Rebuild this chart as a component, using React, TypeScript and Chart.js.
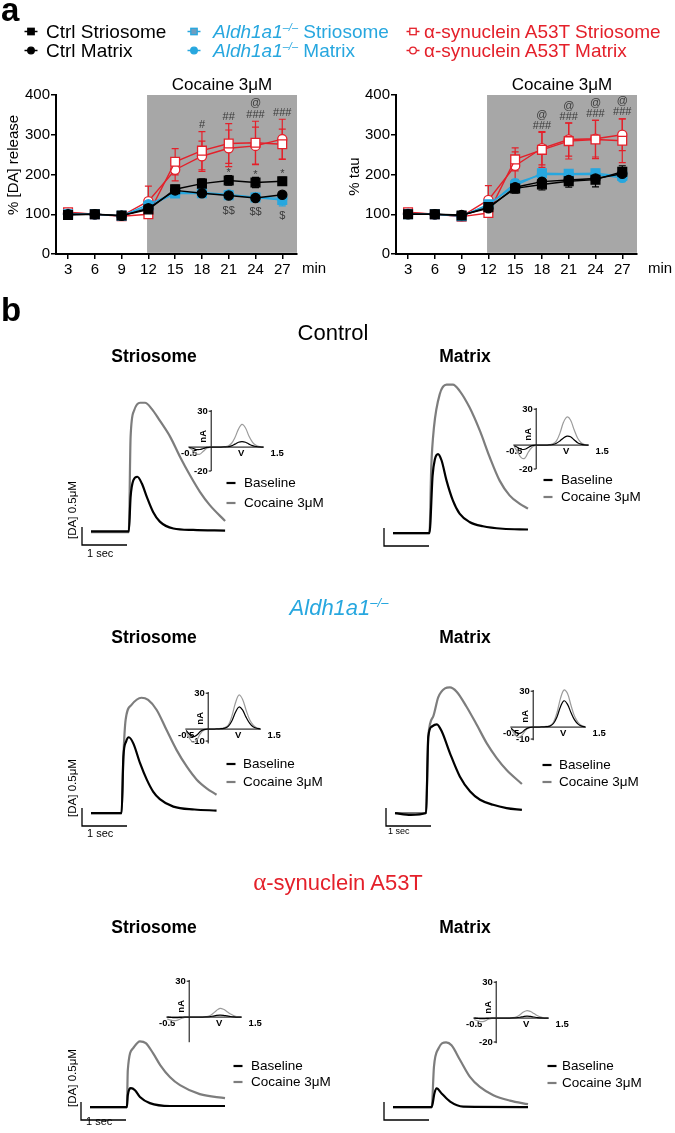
import React, { useEffect, useRef } from 'react';
import { Chart, registerables } from 'chart.js';

Chart.register(...registerables);

type Pt = [number, number];

// ---------------- panel a : time course ----------------
const MINUTES = [3, 6, 9, 12, 15, 18, 21, 24, 27];
const MINUTE_AXIS = [1.65, 28.65];
const COCAINE_FROM_MIN = 11.85;
const PERCENT_AXIS = [0, 400];
const PERCENT_STEP = 100;

const DA_CTRL_STRIOSOME = [98, 100, 97, 112, 163, 177, 185, 180, 183];
const DA_CTRL_MATRIX = [100, 100, 96, 115, 160, 153, 147, 141, 149];
const DA_ALDH_STRIOSOME = [100, 100, 96, 120, 152, 153, 148, 142, 136];
const DA_ALDH_MATRIX = [101, 100, 96, 125, 155, 155, 150, 143, 140];
const DA_A53T_STRIOSOME = [105, 100, 95, 100, 232, 260, 278, 280, 276];
const DA_A53T_MATRIX = [103, 100, 96, 133, 212, 246, 266, 272, 289];

const DA_CTRL_STRIOSOME_SEM = [5, 4, 4, 8, 10, 12, 12, 13, 10];
const DA_CTRL_MATRIX_SEM = [4, 3, 3, 6, 8, 6, 6, 6, 6];
const DA_ALDH_STRIOSOME_SEM = [4, 4, 4, 8, 8, 8, 10, 8, 15];
const DA_ALDH_MATRIX_SEM = [4, 4, 4, 8, 8, 8, 8, 8, 8];
const DA_A53T_STRIOSOME_SEM = [6, 4, 5, 5, 33, 48, 50, 54, 38];
const DA_A53T_MATRIX_SEM = [5, 4, 5, 38, 28, 38, 46, 47, 50];

const TAU_CTRL_STRIOSOME = [100, 100, 97, 118, 165, 175, 183, 187, 207];
const TAU_CTRL_MATRIX = [100, 100, 98, 115, 168, 182, 186, 190, 202];
const TAU_ALDH_STRIOSOME = [100, 100, 95, 125, 172, 203, 202, 203, 196];
const TAU_ALDH_MATRIX = [101, 100, 96, 122, 178, 200, 200, 200, 192];
const TAU_A53T_STRIOSOME = [105, 100, 94, 103, 238, 262, 284, 288, 285];
const TAU_A53T_MATRIX = [103, 100, 95, 136, 222, 266, 288, 290, 300];

const TAU_CTRL_STRIOSOME_SEM = [5, 4, 4, 8, 12, 14, 15, 18, 15];
const TAU_CTRL_MATRIX_SEM = [4, 3, 3, 6, 10, 10, 10, 10, 12];
const TAU_ALDH_STRIOSOME_SEM = [4, 4, 4, 8, 10, 10, 10, 10, 12];
const TAU_ALDH_MATRIX_SEM = [4, 4, 4, 8, 10, 10, 10, 10, 10];
const TAU_A53T_STRIOSOME_SEM = [6, 4, 5, 5, 29, 44, 45, 48, 55];
const TAU_A53T_MATRIX_SEM = [5, 4, 5, 36, 35, 42, 42, 46, 40];

const DA_MARKS: [number, number, string][] = [
  [18, 325, '#'], [21, 344, '##'], [24, 350, '###'], [24, 379, '@'], [27, 356, '###'],
  [21, 203, '*'], [24, 199, '*'], [27, 201, '*'],
  [21, 108, '$$'], [24, 106, '$$'], [27, 95, '$'],
];
const TAU_MARKS: [number, number, string][] = [
  [18, 350, '@'], [18, 321, '###'], [21, 372, '@'], [21, 344, '###'],
  [24, 379, '@'], [24, 352, '###'], [27, 386, '@'], [27, 357, '###'],
];

// ---------------- panel b : amperometric traces (s, µM) ----------------
const CTRL_STR_BASELINE: Pt[] = [[0, 0.02], [0.84, 0.02], [0.88, 0.98], [0.94, 1.44], [1.03, 1.54], [1.13, 1.35], [1.24, 0.98], [1.38, 0.56], [1.53, 0.29], [1.83, 0.1], [2.27, 0.06], [2.98, 0.04]];
const CTRL_STR_COCAINE: Pt[] = [[0, 0], [0.84, 0], [0.88, 2.65], [0.96, 3.39], [1.09, 3.6], [1.2, 3.6], [1.35, 3.43], [1.53, 3.1], [1.76, 2.65], [1.98, 2.09], [2.2, 1.58], [2.42, 1.12], [2.64, 0.75], [2.98, 0.31]];
const CTRL_MAT_BASELINE: Pt[] = [[0, 0], [0.81, 0], [0.88, 1.6], [0.93, 2.05], [1.0, 2.2], [1.08, 2.02], [1.19, 1.46], [1.33, 0.91], [1.48, 0.54], [1.7, 0.31], [2.0, 0.19], [2.44, 0.12], [3.0, 0.1]];
const CTRL_MAT_COCAINE: Pt[] = [[0, 0], [0.81, 0], [0.85, 1.83], [0.91, 2.94], [1.04, 3.87], [1.19, 4.13], [1.33, 4.13], [1.48, 3.96], [1.7, 3.5], [1.93, 2.85], [2.15, 2.11], [2.37, 1.46], [2.59, 1.05], [2.81, 0.82], [3.0, 0.68]];
const ALDH_STR_BASELINE: Pt[] = [[0, 0], [0.68, 0], [0.72, 1.57], [0.78, 1.99], [0.84, 2.11], [0.94, 1.94], [1.09, 1.39], [1.24, 0.93], [1.38, 0.6], [1.53, 0.39], [1.83, 0.18], [2.3, 0.1], [2.79, 0.07]];
const ALDH_STR_COCAINE: Pt[] = [[0, 0], [0.68, 0], [0.72, 1.57], [0.77, 2.6], [0.9, 3.01], [1.12, 3.21], [1.27, 3.15], [1.46, 2.87], [1.68, 2.31], [1.9, 1.76], [2.13, 1.29], [2.35, 0.93], [2.57, 0.69], [2.79, 0.51]];
const ALDH_MAT_BASELINE: Pt[] = [[0, 0], [0.35, -0.05], [0.69, 0], [0.74, 2.13], [0.82, 2.41], [0.93, 2.47], [1.04, 2.27], [1.22, 1.67], [1.44, 1.02], [1.67, 0.6], [1.89, 0.37], [2.18, 0.23], [2.48, 0.14], [2.82, 0.09]];
const ALDH_MAT_COCAINE: Pt[] = [[0, 0], [0.69, 0], [0.74, 2.13], [0.85, 2.69], [0.96, 3.22], [1.11, 3.47], [1.22, 3.5], [1.37, 3.38], [1.59, 2.96], [1.82, 2.45], [2.04, 1.94], [2.26, 1.53], [2.48, 1.2], [2.82, 0.81]];
const A53T_STR_BASELINE: Pt[] = [[0, 0], [0.82, 0], [0.84, 0.33], [0.91, 0.53], [1.0, 0.47], [1.11, 0.28], [1.33, 0.11], [1.78, 0.03], [3.0, 0.03]];
const A53T_STR_COCAINE: Pt[] = [[0, 0], [0.82, 0], [0.84, 1.03], [0.96, 1.64], [1.11, 1.83], [1.24, 1.78], [1.4, 1.5], [1.56, 1.17], [1.78, 0.83], [2.0, 0.61], [2.44, 0.36], [3.0, 0.25]];
const A53T_MAT_BASELINE: Pt[] = [[0, 0], [0.86, 0], [0.92, 0.38], [0.97, 0.52], [1.08, 0.38], [1.27, 0.15], [1.56, 0.01], [3.0, 0.0]];
const A53T_MAT_COCAINE: Pt[] = [[0, 0], [0.86, 0], [0.91, 1.12], [1.01, 1.63], [1.18, 1.8], [1.3, 1.72], [1.49, 1.31], [1.71, 0.84], [1.93, 0.56], [2.23, 0.33], [2.6, 0.18], [3.0, 0.08]];

const SCALE_BAR_SEC = 1;
const SCALE_BAR_UM = 0.5;
const SCALE_BAR_ORIGIN: Pt = [-0.2, -0.36];

// ---------------- cyclic voltammograms (V, nA) ----------------
const CV_VOLTS = [-0.5, -0.42, -0.34, -0.26, -0.18, -0.1, -0.02, 0.06, 0.14, 0.22, 0.3, 0.38, 0.46, 0.54, 0.62, 0.7, 0.78, 0.86, 0.94, 1.02, 1.1, 1.18];
const CTRL_STR_CV_COCAINE = [-0.5, -2.5, -5.5, -6, -3.5, -1, 0, 0, 0, 0, 0.2, 0.8, 3, 8, 15, 19, 16, 9, 4, 1.5, 0.4, 0];
const CTRL_STR_CV_BASELINE = [-0.3, -1, -2, -2, -1.2, -0.3, 0, 0, 0, 0, 0.1, 0.3, 1, 2.5, 4, 4.5, 4, 2.5, 1.2, 0.5, 0.1, 0];
const CTRL_MAT_CV_COCAINE = [-1, -6, -10.5, -11, -6, -2, -0.3, 0, 0, 0, 0.3, 1, 3.5, 10, 19, 23.5, 21, 13, 6, 2, 0.5, 0];
const CTRL_MAT_CV_BASELINE = [-0.5, -2, -3.5, -3.5, -2, -0.5, 0, 0, 0, 0, 0.2, 0.5, 1.5, 3.5, 6, 7.5, 7, 4.5, 2, 0.8, 0.2, 0];
const ALDH_STR_CV_COCAINE = [-2, -8, -11, -9, -4, -1, -0.2, 0, 0, 0.3, 0.6, 1.2, 3.5, 11, 22, 28.5, 25, 16, 8, 3.5, 1.2, 0.3];
const ALDH_STR_CV_BASELINE = [-1, -4.5, -6.4, -5, -2, -0.5, 0, 0, 0, 0.2, 0.4, 0.8, 2.5, 7, 14, 18.5, 16, 10, 5, 2, 0.7, 0.2];
const ALDH_MAT_CV_COCAINE = [-1.5, -6, -8.7, -7, -3, -0.8, 0, 0, 0, 0.3, 0.6, 1.2, 4, 12, 24, 31, 28, 18, 9, 4, 1.3, 0.3];
const ALDH_MAT_CV_BASELINE = [-1, -3.5, -5.4, -4.5, -2, -0.5, 0, 0, 0, 0.2, 0.4, 0.8, 3, 8.5, 17, 22, 19, 12, 6, 2.5, 0.8, 0.2];
const A53T_STR_CV_COCAINE = [-1.5, -2.5, -3, -2.5, -1.2, -0.3, 0, 0, 0, 0, 0.1, 0.3, 1, 3, 5.5, 7.3, 6.5, 4.5, 2.5, 1, 0.3, 0];
const A53T_STR_CV_BASELINE = [0, -0.3, -0.5, -0.4, -0.2, 0, 0, 0, 0, 0, 0, 0.1, 0.3, 0.8, 1.4, 1.7, 1.5, 1, 0.5, 0.2, 0, 0];
const A53T_MAT_CV_COCAINE = [-1.2, -2.2, -3, -2.5, -1, -0.3, 0, 0, 0, 0, 0.1, 0.3, 1, 2.8, 5, 6.3, 5.5, 3.8, 2, 0.8, 0.2, 0];
const A53T_MAT_CV_BASELINE = [0, -0.3, -0.5, -0.4, -0.2, 0, 0, 0, 0, 0, 0, 0.1, 0.3, 0.7, 1.3, 1.7, 1.4, 0.9, 0.4, 0.1, 0, 0];
const CV_V_TICKS = [-0.5, 1.5];

// ---------------- styles ----------------
const FONT = '"Liberation Sans", Arial, Helvetica, sans-serif';
const SERIF = '"Liberation Serif", "Times New Roman", serif';
const BLACK = '#000000';
const BLUE = '#27a7df';
const RED = '#e4202a';
const TRACE_GRAY = '#7d7d7d';
const CV_GRAY = '#9b9b9b';
const SHADE = '#a7a7a7';
const MARK_COLOR = '#3a3a3a';

const SERIES_STYLE = [
  { label: 'Ctrl Striosome', color: BLACK, fill: BLACK, shape: 'rect', r: 6.2 },
  { label: 'Ctrl Matrix', color: BLACK, fill: BLACK, shape: 'circle', r: 4.6 },
  { label: 'Aldh1a1-/- Striosome', color: BLUE, fill: BLUE, shape: 'rect', r: 6.2 },
  { label: 'Aldh1a1-/- Matrix', color: BLUE, fill: BLUE, shape: 'circle', r: 4.6 },
  { label: 'α-synuclein A53T Striosome', color: RED, fill: '#ffffff', shape: 'rect', r: 6.2 },
  { label: 'α-synuclein A53T Matrix', color: RED, fill: '#ffffff', shape: 'circle', r: 4.6 },
];

// ---------------- plugins ----------------
const shadePlugin = {
  id: 'shade',
  beforeDraw(chart: any, _a: any, o: any) {
    const { ctx } = chart;
    const xs = chart.scales.x, ys = chart.scales.y;
    const x0 = xs.getPixelForValue(o.from), x1 = xs.getPixelForValue(o.to);
    const y0 = ys.getPixelForValue(o.top), y1 = ys.getPixelForValue(o.bottom);
    ctx.save();
    ctx.fillStyle = o.color;
    ctx.fillRect(x0, y0, x1 - x0, y1 - y0);
    ctx.fillStyle = BLACK;
    ctx.font = `17px ${FONT}`;
    ctx.textAlign = 'center';
    ctx.textBaseline = 'alphabetic';
    ctx.fillText(o.label, (x0 + x1) / 2, y0 - 5);
    ctx.restore();
  },
};

const errorBarPlugin = {
  id: 'errorBars',
  beforeDatasetsDraw(chart: any) {
    const { ctx } = chart;
    const xs = chart.scales.x, ys = chart.scales.y;
    ctx.save();
    const dss = chart.data.datasets;
    for (let i = dss.length - 1; i >= 0; i--) {
      const ds = dss[i];
      if (!ds.errors) continue;
      ctx.strokeStyle = ds.borderColor;
      ctx.lineWidth = 1.2;
      ds.data.forEach((p: any, j: number) => {
        const e = ds.errors[j];
        const px = xs.getPixelForValue(p.x);
        const top = ys.getPixelForValue(p.y + e), bot = ys.getPixelForValue(p.y - e);
        ctx.beginPath();
        ctx.moveTo(px, top); ctx.lineTo(px, bot);
        ctx.moveTo(px - 3.5, top); ctx.lineTo(px + 3.5, top);
        ctx.moveTo(px - 3.5, bot); ctx.lineTo(px + 3.5, bot);
        ctx.stroke();
      });
    }
    ctx.restore();
  },
};

const marksPlugin = {
  id: 'marks',
  afterDatasetsDraw(chart: any, _a: any, o: any) {
    const { ctx } = chart;
    const xs = chart.scales.x, ys = chart.scales.y;
    ctx.save();
    ctx.fillStyle = MARK_COLOR;
    ctx.font = `11px ${FONT}`;
    ctx.textAlign = 'center';
    ctx.textBaseline = 'middle';
    (o.items || []).forEach(([x, y, t]: [number, number, string]) => {
      ctx.fillText(t, xs.getPixelForValue(x), ys.getPixelForValue(y));
    });
    ctx.restore();
  },
};

const axisTextPlugin = {
  id: 'axisText',
  afterDraw(chart: any, _a: any, o: any) {
    const { ctx, chartArea } = chart;
    const ys = chart.scales.y;
    ctx.save();
    ctx.fillStyle = BLACK;
    ctx.font = `15px ${FONT}`;
    ctx.textAlign = 'left';
    ctx.textBaseline = 'middle';
    ctx.fillText(o.unit, chartArea.right + o.unitDx, chartArea.bottom + 15);
    ctx.translate(o.titleX, ys.getPixelForValue(o.titleAt));
    ctx.rotate(-Math.PI / 2);
    ctx.textAlign = 'center';
    ctx.fillText(o.title, 0, 0);
    ctx.restore();
  },
};

const cvAxesPlugin = {
  id: 'cvAxes',
  beforeDatasetsDraw(chart: any, _a: any, o: any) {
    const { ctx } = chart;
    const xs = chart.scales.x, ys = chart.scales.y;
    const X = (v: number) => xs.getPixelForValue(v);
    const Y = (v: number) => ys.getPixelForValue(v);
    ctx.save();
    ctx.strokeStyle = BLACK;
    ctx.lineWidth = 1;
    ctx.beginPath();
    ctx.moveTo(X(o.vFrom), Y(0)); ctx.lineTo(X(o.vTo), Y(0));
    ctx.moveTo(X(0), Y(o.iFrom)); ctx.lineTo(X(0), Y(o.iTo));
    o.iTicks.forEach((t: number) => { ctx.moveTo(X(0) - 2.5, Y(t)); ctx.lineTo(X(0), Y(t)); });
    ctx.stroke();
    ctx.fillStyle = BLACK;
    ctx.font = `bold 9.5px ${FONT}`;
    ctx.textAlign = 'right';
    ctx.textBaseline = 'middle';
    o.iTicks.forEach((t: number) => ctx.fillText(String(t), X(0) - 3.5, Y(t)));
    ctx.textAlign = 'center';
    ctx.textBaseline = 'top';
    o.vTicks.forEach((t: number) => ctx.fillText(String(t), X(t), Y(0) + 2));
    ctx.fillText(o.vTitle, X(o.vTitleAt), Y(0) + 2);
    ctx.translate(X(0) - 3, Y(o.iTitleAt));
    ctx.rotate(-Math.PI / 2);
    ctx.textBaseline = 'bottom';
    ctx.fillText(o.iTitle, 0, 0);
    ctx.restore();
  },
};

// ---------------- chart configs ----------------
function timeCourseConfig(values: number[][], errors: number[][], marks: any[], yTitle: string, titleX: number, titleAt: number, unitDx: number) {
  const datasets = SERIES_STYLE.map((s, i) => ({
    label: s.label,
    data: MINUTES.map((m, j) => ({ x: m, y: values[i][j] })),
    errors: errors[i],
    showLine: true,
    borderColor: s.color,
    backgroundColor: s.fill,
    pointBackgroundColor: s.fill,
    pointBorderColor: s.color,
    pointStyle: s.shape,
    pointRadius: s.r,
    pointBorderWidth: 1.3,
    borderWidth: 1.4,
    tension: 0,
  }));
  const tickFont = { family: FONT, size: 15 };
  const grid = { display: true, drawOnChartArea: false, drawTicks: true, tickLength: 5, color: BLACK, lineWidth: 1.5 };
  return {
    type: 'scatter',
    data: { datasets },
    plugins: [shadePlugin, errorBarPlugin, marksPlugin, axisTextPlugin],
    options: {
      animation: false,
      responsive: false,
      maintainAspectRatio: false,
      layout: { padding: { top: 25, right: 38, left: 0, bottom: 0 } },
      plugins: {
        legend: { display: false },
        tooltip: { enabled: false },
        shade: { from: COCAINE_FROM_MIN, to: MINUTE_AXIS[1], top: PERCENT_AXIS[1], bottom: 3, color: SHADE, label: 'Cocaine 3μM' },
        marks: { items: marks },
        axisText: { unit: 'min', unitDx: unitDx, title: yTitle, titleX, titleAt },
      },
      scales: {
        x: {
          type: 'linear',
          min: MINUTE_AXIS[0],
          max: MINUTE_AXIS[1],
          afterBuildTicks: (s: any) => { s.ticks = MINUTES.map((v) => ({ value: v })); },
          ticks: { color: BLACK, font: tickFont, padding: 2, autoSkip: false, maxRotation: 0, callback: (v: any) => String(v) },
          grid,
          border: { color: BLACK, width: 2 },
          afterFit: (s: any) => { s.height = 31; },
        },
        y: {
          min: PERCENT_AXIS[0],
          max: PERCENT_AXIS[1],
          ticks: { stepSize: PERCENT_STEP, color: BLACK, font: tickFont, padding: 1 },
          grid,
          border: { color: BLACK, width: 2 },
          afterFit: (s: any) => { s.width = 56; },
        },
      },
    },
  };
}

const TRACE_T_RANGE = [-0.4, 3.2];
const TRACE_C_RANGE = [-1.0, 4.4];
const PX_PER_SEC = 45;
const PX_PER_UM = 36;

function traceConfig(base: Pt[], coc: Pt[]) {
  const [bx, by] = SCALE_BAR_ORIGIN;
  const bar = [{ x: bx, y: by + SCALE_BAR_UM }, { x: bx, y: by }, { x: bx + SCALE_BAR_SEC, y: by }];
  const line = (pts: Pt[], color: string) => ({
    data: pts.map(([x, y]) => ({ x, y })),
    showLine: true,
    borderColor: color,
    borderWidth: 2.2,
    pointRadius: 0,
    cubicInterpolationMode: 'monotone',
  });
  return {
    type: 'scatter',
    data: {
      datasets: [
        line(base, BLACK),
        line(coc, TRACE_GRAY),
        { data: bar, showLine: true, borderColor: BLACK, borderWidth: 1.3, pointRadius: 0, tension: 0 },
      ],
    },
    options: {
      animation: false,
      responsive: false,
      maintainAspectRatio: false,
      layout: { padding: 0 },
      plugins: { legend: { display: false }, tooltip: { enabled: false } },
      scales: {
        x: { type: 'linear', display: false, min: TRACE_T_RANGE[0], max: TRACE_T_RANGE[1] },
        y: { type: 'linear', display: false, min: TRACE_C_RANGE[0], max: TRACE_C_RANGE[1] },
      },
    },
  };
}

const CV_V_RANGE = [-0.8, 1.7];
const CV_I_RANGE = [-30, 36];
const PX_PER_V = 44;
const PX_PER_NA = 1.2;

function cvConfig(base: number[], coc: number[], iMin: number, iTicks: number[]) {
  const line = (vals: number[], color: string) => ({
    data: CV_VOLTS.map((v, i) => ({ x: v, y: vals[i] })),
    showLine: true,
    borderColor: color,
    borderWidth: 1.2,
    pointRadius: 0,
    tension: 0.35,
  });
  return {
    type: 'scatter',
    data: { datasets: [line(base, BLACK), line(coc, CV_GRAY)] },
    plugins: [cvAxesPlugin],
    options: {
      animation: false,
      responsive: false,
      maintainAspectRatio: false,
      layout: { padding: 0 },
      plugins: {
        legend: { display: false },
        tooltip: { enabled: false },
        cvAxes: {
          vFrom: -0.52, vTo: 1.2, iFrom: iMin, iTo: 31, iTicks, vTicks: CV_V_TICKS,
          vTitle: 'V', vTitleAt: 0.68, iTitle: 'nA', iTitleAt: 9,
        },
      },
      scales: {
        x: { type: 'linear', display: false, min: CV_V_RANGE[0], max: CV_V_RANGE[1] },
        y: { type: 'linear', display: false, min: CV_I_RANGE[0], max: CV_I_RANGE[1] },
      },
    },
  };
}

// ---------------- layout ----------------
const PANELS = [
  { base: CTRL_STR_BASELINE, coc: CTRL_STR_COCAINE, cvB: CTRL_STR_CV_BASELINE, cvC: CTRL_STR_CV_COCAINE, o: [91, 532], cv: [211, 447], iMin: -20, iTicks: [30, -20], lg: [231, 244, 487, 507], sec: [87, 557, 11], da: [76, 510] },
  { base: CTRL_MAT_BASELINE, coc: CTRL_MAT_COCAINE, cvB: CTRL_MAT_CV_BASELINE, cvC: CTRL_MAT_CV_COCAINE, o: [393, 533], cv: [536, 445], iMin: -20, iTicks: [30, -20], lg: [548, 561, 484, 501], sec: null, da: null },
  { base: ALDH_STR_BASELINE, coc: ALDH_STR_COCAINE, cvB: ALDH_STR_CV_BASELINE, cvC: ALDH_STR_CV_COCAINE, o: [91, 813], cv: [208, 729], iMin: -12, iTicks: [30, -10], lg: [231, 243, 768, 786], sec: [87, 837, 11], da: [76, 788] },
  { base: ALDH_MAT_BASELINE, coc: ALDH_MAT_COCAINE, cvB: ALDH_MAT_CV_BASELINE, cvC: ALDH_MAT_CV_COCAINE, o: [395, 813], cv: [533, 727], iMin: -11, iTicks: [30, -10], lg: [547, 559, 769, 786], sec: [388, 834, 9], da: null },
  { base: A53T_STR_BASELINE, coc: A53T_STR_COCAINE, cvB: A53T_STR_CV_BASELINE, cvC: A53T_STR_CV_COCAINE, o: [90, 1107], cv: [189, 1017], iMin: -21, iTicks: [30], lg: [238, 251, 1070, 1086], sec: [86, 1125, 11], da: [76, 1078] },
  { base: A53T_MAT_BASELINE, coc: A53T_MAT_COCAINE, cvB: A53T_MAT_CV_BASELINE, cvC: A53T_MAT_CV_COCAINE, o: [393, 1107], cv: [496, 1018], iMin: -21, iTicks: [30, -20], lg: [552, 562, 1070, 1087], sec: null, da: null },
];

function CanvasChart({ left, top, width, height, make }: any) {
  const ref = useRef<HTMLCanvasElement | null>(null);
  useEffect(() => {
    if (!ref.current) return;
    const chart = new Chart(ref.current, make());
    return () => chart.destroy();
  }, []);
  return (
    <canvas
      ref={ref}
      width={Math.round(width)}
      height={Math.round(height)}
      style={{ position: 'absolute', left, top, width: Math.round(width), height: Math.round(height) }}
    />
  );
}

function Marker({ x, y, color, fill, shape }: any) {
  return (
    <g>
      <line x1={x - 6.5} x2={x + 6.5} y1={y} y2={y} stroke={color} strokeWidth={1.5} />
      {shape === 'rect' ? (
        <rect x={x - 3.2} y={y - 3.2} width={6.4} height={6.4} fill={fill} stroke={color} strokeWidth={1.3} />
      ) : (
        <circle cx={x} cy={y} r={3.3} fill={fill} stroke={color} strokeWidth={1.3} />
      )}
    </g>
  );
}

export default function App() {
  const daValues = [DA_CTRL_STRIOSOME, DA_CTRL_MATRIX, DA_ALDH_STRIOSOME, DA_ALDH_MATRIX, DA_A53T_STRIOSOME, DA_A53T_MATRIX];
  const daErrors = [DA_CTRL_STRIOSOME_SEM, DA_CTRL_MATRIX_SEM, DA_ALDH_STRIOSOME_SEM, DA_ALDH_MATRIX_SEM, DA_A53T_STRIOSOME_SEM, DA_A53T_MATRIX_SEM];
  const tauValues = [TAU_CTRL_STRIOSOME, TAU_CTRL_MATRIX, TAU_ALDH_STRIOSOME, TAU_ALDH_MATRIX, TAU_A53T_STRIOSOME, TAU_A53T_MATRIX];
  const tauErrors = [TAU_CTRL_STRIOSOME_SEM, TAU_CTRL_MATRIX_SEM, TAU_ALDH_STRIOSOME_SEM, TAU_ALDH_MATRIX_SEM, TAU_A53T_STRIOSOME_SEM, TAU_A53T_MATRIX_SEM];

  const traceW = (TRACE_T_RANGE[1] - TRACE_T_RANGE[0]) * PX_PER_SEC;
  const traceH = (TRACE_C_RANGE[1] - TRACE_C_RANGE[0]) * PX_PER_UM;
  const cvW = (CV_V_RANGE[1] - CV_V_RANGE[0]) * PX_PER_V;
  const cvH = (CV_I_RANGE[1] - CV_I_RANGE[0]) * PX_PER_NA;

  const legendRows = [
    { s: SERIES_STYLE[0], mx: 31, y: 38 },
    { s: SERIES_STYLE[1], mx: 31, y: 57 },
    { s: SERIES_STYLE[2], mx: 194, y: 38 },
    { s: SERIES_STYLE[3], mx: 194, y: 57 },
    { s: SERIES_STYLE[4], mx: 413, y: 38 },
    { s: SERIES_STYLE[5], mx: 413, y: 57 },
  ];

  const t = (x: number, y: number, size: number, content: any, extra: any = {}) => (
    <text x={x} y={y} fontFamily={FONT} fontSize={size} fill={BLACK} style={{ whiteSpace: 'pre' }} {...extra}>{content}</text>
  );

  return (
    <div style={{ position: 'absolute', left: 0, top: 0, width: 675, height: 1133, background: '#fff', overflow: 'hidden' }}>
      <CanvasChart left={0} top={70} width={335} height={215} make={() => timeCourseConfig(daValues, daErrors, DA_MARKS, '% [DA] release', 14, 224, 5)} />
      <CanvasChart left={340} top={70} width={335} height={215} make={() => timeCourseConfig(tauValues, tauErrors, TAU_MARKS, '% tau', 15, 195, 11)} />
      {PANELS.map((p, i) => (
        <React.Fragment key={i}>
          <CanvasChart
            left={p.o[0] + TRACE_T_RANGE[0] * PX_PER_SEC}
            top={p.o[1] - TRACE_C_RANGE[1] * PX_PER_UM}
            width={traceW}
            height={traceH}
            make={() => traceConfig(p.base, p.coc)}
          />
          <CanvasChart
            left={p.cv[0] + CV_V_RANGE[0] * PX_PER_V}
            top={p.cv[1] - CV_I_RANGE[1] * PX_PER_NA}
            width={cvW}
            height={cvH}
            make={() => cvConfig(p.cvB, p.cvC, p.iMin, p.iTicks)}
          />
        </React.Fragment>
      ))}
      <svg width={675} height={1133} style={{ position: 'absolute', left: 0, top: 0 }}>
        {t(1, 21, 33, 'a', { fontWeight: 'bold' })}
        {legendRows.map((r, i) => (
          <g key={i}>
            <Marker x={r.mx} y={r.y - 6.5} color={r.s.color} fill={i === 2 ? '#6d9ec0' : r.s.fill} shape={r.s.shape} />
          </g>
        ))}
        {t(46, 38, 19, 'Ctrl Striosome')}
        {t(46, 57, 19, 'Ctrl Matrix')}
        <text x={213} y={38} fontFamily={FONT} fontSize={19} fill={BLUE} style={{ whiteSpace: 'pre' }}>
          <tspan fontStyle="italic">Aldh1a1</tspan><tspan fontStyle="italic" fontSize={11} dy={-7}>–/–</tspan><tspan dy={7}> Striosome</tspan>
        </text>
        <text x={213} y={57} fontFamily={FONT} fontSize={19} fill={BLUE} style={{ whiteSpace: 'pre' }}>
          <tspan fontStyle="italic">Aldh1a1</tspan><tspan fontStyle="italic" fontSize={11} dy={-7}>–/–</tspan><tspan dy={7}> Matrix</tspan>
        </text>
        {t(424, 38, 19, 'α-synuclein A53T Striosome', { fill: RED })}
        {t(424, 57, 19, 'α-synuclein A53T Matrix', { fill: RED })}

        {t(1, 321, 33, 'b', { fontWeight: 'bold' })}
        {t(333, 340, 22, 'Control', { textAnchor: 'middle' })}
        <text x={339} y={615} fontFamily={FONT} fontSize={22} fill={BLUE} textAnchor="middle" fontStyle="italic">
          Aldh1a1<tspan fontSize={13} dy={-8}>–/–</tspan>
        </text>
        <text x={338} y={890} fontFamily={FONT} fontSize={22} fill={RED} textAnchor="middle">
          <tspan fontFamily={SERIF} fontSize={25}>α</tspan>-synuclein A53T
        </text>
        {[362, 643, 933].map((y) => (
          <g key={y}>
            {t(154, y, 17.5, 'Striosome', { fontWeight: 'bold', textAnchor: 'middle' })}
            {t(465, y, 17.5, 'Matrix', { fontWeight: 'bold', textAnchor: 'middle' })}
          </g>
        ))}
        {PANELS.map((p, i) => (
          <g key={i}>
            <line x1={p.lg[0] - 4.5} x2={p.lg[0] + 4.5} y1={p.lg[2] - 4} y2={p.lg[2] - 4} stroke={BLACK} strokeWidth={2.2} />
            <line x1={p.lg[0] - 4.5} x2={p.lg[0] + 4.5} y1={p.lg[3] - 4} y2={p.lg[3] - 4} stroke={TRACE_GRAY} strokeWidth={2.2} />
            {t(p.lg[1], p.lg[2], 13.5, 'Baseline')}
            {t(p.lg[1], p.lg[3], 13.5, 'Cocaine 3μM')}
            {p.sec ? t(p.sec[0], p.sec[1], p.sec[2], '1 sec') : null}
            {p.da ? (
              <text transform={`translate(${p.da[0]},${p.da[1]}) rotate(-90)`} fontFamily={FONT} fontSize={11.5} textAnchor="middle" fill={BLACK}>[DA] 0.5μM</text>
            ) : null}
          </g>
        ))}
      </svg>
    </div>
  );
}
